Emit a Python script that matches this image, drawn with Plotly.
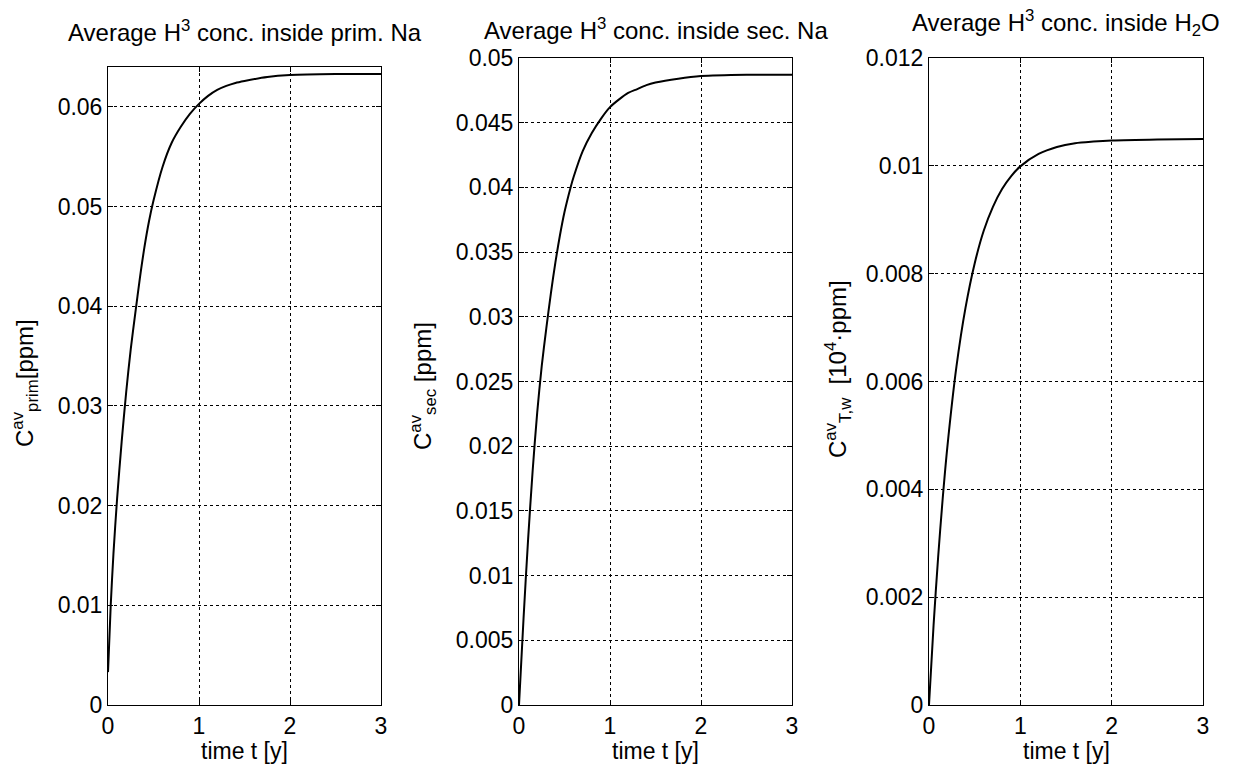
import plotly.graph_objects as go

# the page body margin is removed (post_script) so figure pixels == window pixels
W, H, OFF = 1235, 767, 0

# ---- data ----
t_prim = [0, 0.03, 0.06, 0.1, 0.15, 0.2, 0.25, 0.3, 0.35, 0.4, 0.45, 0.5, 0.6, 0.7, 0.8, 0.9, 1.0,
          1.1, 1.2, 1.3, 1.4, 1.5, 1.75, 2.0, 2.5, 3.0]
c_prim = [0.0033, 0.0100, 0.0152, 0.0207, 0.0264, 0.0314, 0.0357, 0.0393, 0.0428, 0.0459, 0.0485, 0.0506,
          0.0540, 0.0564, 0.0580, 0.0593, 0.0603, 0.0611, 0.0617, 0.0621, 0.0624, 0.0626, 0.0630, 0.0632,
          0.0633, 0.0633]

t_sec = [0, 0.05, 0.1, 0.15, 0.2, 0.25, 0.3, 0.35, 0.4, 0.45, 0.5, 0.567, 0.6, 0.7, 0.8, 0.9, 1.0,
         1.1, 1.2, 1.3, 1.4, 1.5, 1.75, 2.0, 2.5, 3.0]
c_sec = [0.0, 0.0067, 0.0128, 0.0181, 0.0226, 0.0262, 0.0291, 0.0318, 0.0342, 0.0363, 0.0381, 0.0400,
         0.0408, 0.0428, 0.0442, 0.0453, 0.0462, 0.0468, 0.0473, 0.0476, 0.0479, 0.0481, 0.0484, 0.0486,
         0.0487, 0.0487]

t_h2o = [0, 0.05, 0.1, 0.15, 0.2, 0.3, 0.4, 0.5, 0.6, 0.7, 0.8, 0.9, 1.0, 1.2, 1.4, 1.6, 1.8, 2.0, 2.5, 3.0]
c_h2o = [0.0, 0.00148, 0.00274, 0.00383, 0.00477, 0.00627, 0.00737, 0.00819, 0.0088, 0.00924, 0.00957,
         0.00981, 0.00999, 0.01022, 0.01035, 0.01042, 0.01045, 0.01047, 0.01049, 0.0105]

titles = ["Average H<sup>3</sup> conc. inside prim. Na",
          "Average H<sup>3</sup> conc. inside sec. Na",
          "Average H<sup>3</sup> conc. inside H<sub>2</sub>O"]
ylabels = ["C<sup>av</sup><sub>prim</sub>[ppm]",
           "C<sup>av</sup><sub>sec</sub> [ppm]",
           "C<sup>av</sup><sub>T,w</sub>  [10<sup>4</sup>·ppm]"]
xlabel = "time t [y]"
y_ranges = [[0, 0.064], [0, 0.05], [0, 0.012]]
y_dticks = [0.01, 0.005, 0.002]
x_ticks = [0, 1, 2, 3]

# ---- layout geometry (window pixels) ----
boxes = [(108, 381, 67, 705), (519, 792, 58, 705), (929, 1203, 58, 705)]
title_y = [31, 29, 23]
ylab_x = [25, 423, 838]
ylab_y = [383, 386, 369]

def fx(px):
    return (px - OFF) / W

def fy(py):
    return 1 - (py - OFF) / H

FONT = "Liberation Sans, Arial, sans-serif"

fig = go.Figure()
series = [(t_prim, c_prim), (t_sec, c_sec), (t_h2o, c_h2o)]
annotations = []
for i, ((t, c), (x0, x1, y0, y1)) in enumerate(zip(series, boxes)):
    n = "" if i == 0 else str(i + 1)
    fig.add_trace(go.Scatter(x=t, y=c, mode="lines",
                             line=dict(color="black", width=2, shape="spline", smoothing=0.8),
                             xaxis="x" + n, yaxis="y" + n, showlegend=False, hoverinfo="skip"))
    common = dict(showline=True, linecolor="black", linewidth=1, mirror="ticks", ticks="inside", ticklen=5,
                  tickcolor="black", showgrid=True, gridcolor="black", griddash="3px,3px", gridwidth=1,
                  zeroline=False, automargin=False)
    fig.update_layout(**{
        "xaxis" + n: dict(domain=[fx(x0), fx(x1)], range=[0, 3], tickvals=x_ticks, anchor="y" + n,
                          tickfont=dict(family=FONT, size=23, color="black"), **common),
        "yaxis" + n: dict(domain=[fy(y1), fy(y0)], range=y_ranges[i], dtick=y_dticks[i], tick0=0,
                          anchor="x" + n, tickfont=dict(family=FONT, size=23, color="black"), **common),
    })
    cx = (x0 + x1) / 2
    annotations.append(dict(text=titles[i], x=fx(cx), y=fy(title_y[i]), xref="paper", yref="paper",
                            xanchor="center", yanchor="middle", showarrow=False,
                            font=dict(family=FONT, size=24, color="black")))
    annotations.append(dict(text=xlabel, x=fx(cx), y=fy(751), xref="paper", yref="paper",
                            xanchor="center", yanchor="middle", showarrow=False,
                            font=dict(family=FONT, size=23, color="black")))
    annotations.append(dict(text=ylabels[i], x=fx(ylab_x[i]), y=fy(ylab_y[i]), xref="paper", yref="paper",
                            xanchor="center", yanchor="middle", textangle=-90, showarrow=False,
                            font=dict(family=FONT, size=24, color="black")))

fig.update_layout(width=W, height=H, margin=dict(l=0, r=0, t=0, b=0, autoexpand=False),
                  paper_bgcolor="white", plot_bgcolor="white", annotations=annotations)
fig.write_html("out.html", config={"displayModeBar": False},
               post_script="document.body.style.margin='0px';document.body.style.overflow='hidden';")
